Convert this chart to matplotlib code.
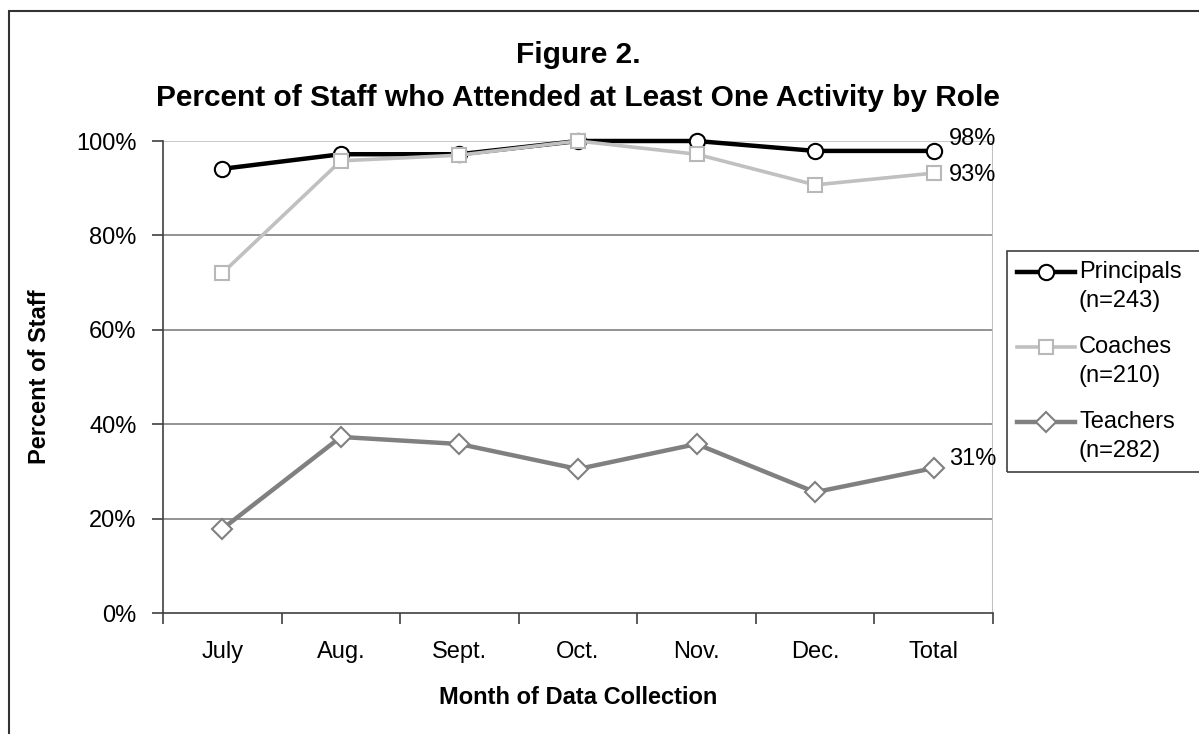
import numpy as np
import matplotlib
matplotlib.use('Agg')
import matplotlib.pyplot as plt
from matplotlib.patches import Rectangle
from matplotlib.lines import Line2D

plt.rcParams['font.family'] = ['Liberation Sans', 'DejaVu Sans']

months = ['July', 'Aug.', 'Sept.', 'Oct.', 'Nov.', 'Dec.', 'Total']
principals = [94.1, 97.2, 97.2, 100.0, 100.0, 97.9, 97.9]
coaches = [72.0, 95.8, 97.0, 100.0, 97.2, 90.7, 93.2]
teachers = [17.8, 37.3, 35.8, 30.5, 35.8, 25.6, 30.7]
names = ['Principals', 'Coaches', 'Teachers']
counts = ['(n=243)', '(n=210)', '(n=282)']
end_labels = ['98%', '93%', '31%']

W, H = 1199, 734
fig = plt.figure(figsize=(11.99, 7.34), dpi=100)
ax = fig.add_axes([163 / W, 1 - 613 / H, 830 / W, 472 / H])

x = np.arange(len(months))
fs = 17

# outer chart border (right/bottom edges run off the image)
fig.patches.append(Rectangle((9 / W, -0.05), 1.1, 1 - 11 / H + 0.05,
                             transform=fig.transFigure, fill=False,
                             edgecolor='#333333', linewidth=1.5))

for v in [20, 40, 60, 80]:
    ax.axhline(v, color='#808080', linewidth=1.2, zorder=1)
ax.axhline(100, color='#c0c0c0', linewidth=1.2, zorder=1)
ax.axvline(6.5, color='#c0c0c0', linewidth=1.5, zorder=1)

styles = [
    dict(color='black', linewidth=3.2, marker='o', markersize=11,
         markerfacecolor='white', markeredgecolor='black', markeredgewidth=1.5),
    dict(color='#c0c0c0', linewidth=2.6, marker='s', markersize=10.5,
         markerfacecolor='white', markeredgecolor='#b8b8b8', markeredgewidth=1.5),
    dict(color='#808080', linewidth=3.2, marker='D', markersize=10,
         markerfacecolor='white', markeredgecolor='#808080', markeredgewidth=1.5),
]

ax.plot(x, principals, zorder=4, clip_on=False, **styles[0])
ax.plot(x, coaches, zorder=5, clip_on=False, **styles[1])
ax.plot(x, teachers, zorder=4, clip_on=False, **styles[2])

ax.text(6.13, principals[-1] + 2.6, end_labels[0], fontsize=fs, va='center', ha='left')
ax.text(6.13, coaches[-1] - 0.5, end_labels[1], fontsize=fs, va='center', ha='left')
ax.text(6.13, teachers[-1] + 2.0, end_labels[2], fontsize=fs, va='center', ha='left')

ax.set_xlim(-0.5, 6.5)
ax.set_ylim(0, 100)
ax.set_xticks(np.arange(-0.5, 7, 1))
ax.set_xticklabels([])
ax.set_xticks(x, minor=True)
ax.set_xticklabels(months, minor=True, fontsize=fs)
ax.tick_params(axis='x', which='major', direction='out', length=8, width=1.2, color='#404040')
ax.tick_params(axis='x', which='minor', length=0, pad=20)
ax.set_yticks(np.arange(0, 101, 20))
ax.set_yticklabels([f'{v}%' for v in range(0, 101, 20)], fontsize=fs)
ax.tick_params(axis='y', direction='out', length=8, width=1.2, color='#404040', pad=11)

for s in ['top', 'right']:
    ax.spines[s].set_visible(False)
for s in ['left', 'bottom']:
    ax.spines[s].set_color('#404040')
    ax.spines[s].set_linewidth(1.2)

fig.text(40 / W, 1 - 377 / H, 'Percent of Staff', rotation=90, fontsize=fs,
         fontweight='bold', ha='center', va='center')
fig.text(578 / W, 1 - 697 / H, 'Month of Data Collection', fontsize=fs,
         fontweight='bold', ha='center', va='center')
fig.text(578 / W, 1 - 55 / H, 'Figure 2.', fontsize=21.5,
         fontweight='bold', ha='center', va='center')
fig.text(578 / W, 1 - 98 / H, 'Percent of Staff who Attended at Least One Activity by Role',
         fontsize=21.5, fontweight='bold', ha='center', va='center')

# legend box, drawn by hand so the handle sits on the first text line
fig.patches.append(Rectangle((1007 / W, 1 - 472 / H), 0.3, 221 / H,
                             transform=fig.transFigure, fill=False,
                             edgecolor='#404040', linewidth=1.2))
for i, (name, n) in enumerate(zip(names, counts)):
    y0 = 272 + i * 75
    st = dict(styles[i])
    mk = {k: st.pop(k) for k in ['marker', 'markersize', 'markerfacecolor',
                                 'markeredgecolor', 'markeredgewidth']}
    fig.add_artist(Line2D([1017 / W, 1075 / W], [1 - y0 / H] * 2, **st))
    fig.add_artist(Line2D([1046 / W], [1 - y0 / H], linestyle='none', **mk))
    fig.text(1079 / W, 1 - y0 / H, name, fontsize=fs, ha='left', va='center')
    fig.text(1079 / W, 1 - (y0 + 29) / H, n, fontsize=fs, ha='left', va='center')

fig.savefig('out.png', dpi=100)
